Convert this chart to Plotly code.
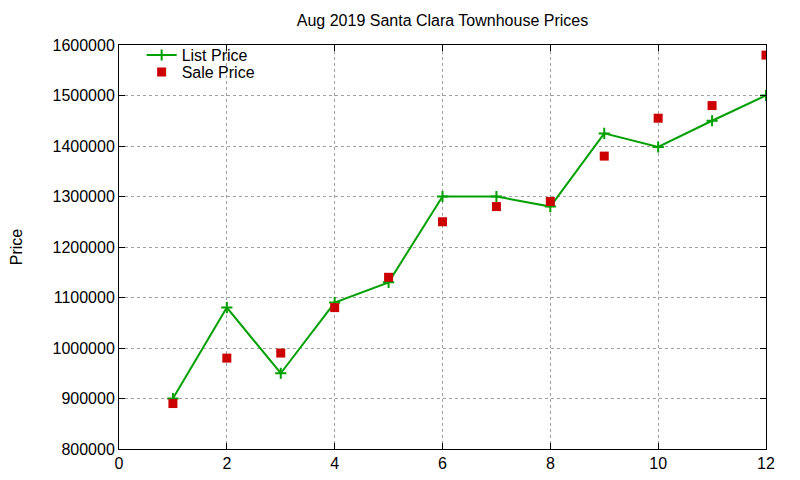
import plotly.graph_objects as go

# months 1..12 of the listing data
month = [1, 2, 3, 4, 5, 6, 7, 8, 9, 10, 11, 12]
list_price = [900000, 1080000, 950000, 1090000, 1130000, 1300000,
              1300000, 1280000, 1425000, 1398000, 1450000, 1500000]
sale_price = [890000, 980000, 990000, 1080000, 1140000, 1250000,
              1280000, 1290000, 1380000, 1455000, 1480000, 1580000]

FONT = "Liberation Sans, Arial, sans-serif"
GREEN = "#00a000"
RED = "#cc0000"

fig = go.Figure()
fig.add_trace(go.Scatter(
    x=month, y=list_price, name="List Price", mode="lines+markers",
    line=dict(color=GREEN, width=2),
    marker=dict(symbol="cross-thin", size=8, line=dict(color=GREEN, width=2)),
    legend="legend", showlegend=True,
))
fig.add_trace(go.Scatter(
    x=month, y=sale_price, name="Sale Price", mode="markers",
    marker=dict(symbol="square", size=9, color=RED),
    legend="legend2", showlegend=True,
))

axis_common = dict(
    showline=True, linecolor="black", linewidth=1, mirror="ticks",
    ticks="inside", ticklen=6, tickcolor="black",
    showgrid=True, gridcolor="#a0a0a0", griddash="dot", gridwidth=1,
    zeroline=False, automargin=False,
    tickfont=dict(size=16, color="black", family=FONT),
)

fig.update_xaxes(range=[0, 12], dtick=2, tick0=0, **axis_common)
fig.update_yaxes(range=[800000, 1600000], dtick=100000, tickformat="d",
                 title=dict(text="Price", standoff=34,
                            font=dict(size=16, color="black", family=FONT)),
                 **axis_common)

# page body adds ~8px offset, so margins are set relative to that
leg_common = dict(xanchor="left", yanchor="middle",
                  bgcolor="rgba(255,255,255,0)", borderwidth=0,
                  font=dict(size=16, color="black"))
fig.update_layout(
    width=800, height=480,
    margin=dict(l=111, r=42, t=37, b=39),
    paper_bgcolor="white", plot_bgcolor="white",
    font=dict(family=FONT, size=16, color="black"),
    showlegend=True,
    title=dict(text="Aug 2019 Santa Clara Townhouse Prices", x=0.5, xref="paper",
               y=0.975, yanchor="middle", font=dict(size=16, color="black")),
    legend=dict(x=0.035, y=0.975, **leg_common),
    legend2=dict(x=0.035, y=0.933, **leg_common),
)

fig.write_html("out.html")
